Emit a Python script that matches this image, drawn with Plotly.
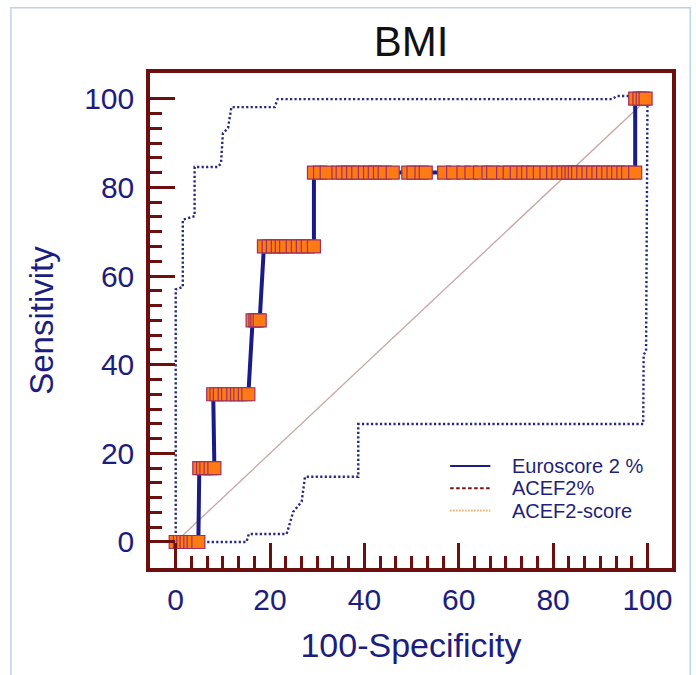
import plotly.graph_objects as go

# ---------------- data ----------------
roc_x = [0, 0.9, 1.6, 2.3, 3.1, 3.8, 4.8,
         5.0, 5.8, 6.5, 7.4, 8.2,
         7.95, 8.65, 9.35, 10.4, 11.1, 12.2, 13.0, 13.7, 14.65, 15.4,
         16.3, 16.9, 17.3, 17.8,
         18.7, 19.7, 20.6, 21.65, 22.5, 23.4, 24.8, 25.9, 26.95, 28.0, 29.3,
         29.3, 30.6, 32.0, 34.5, 35.4, 36.6, 37.6, 38.7, 40.1, 41.2, 42.2, 43.3, 44.3, 46.0,
         49.3, 50.4, 52.1, 53.0,
         56.9, 58.8, 61.0, 62.7, 64.5, 66.3, 67.3, 69.4, 70.8, 72.3, 73.7, 74.7, 75.8,
         77.2, 78.6, 80.0, 81.1, 82.2, 83.2, 83.9, 84.6, 85.3, 86.4, 87.5, 88.5, 89.6,
         90.6, 91.7, 92.8, 93.8, 94.9, 95.9, 97.4,
         97.4, 98.3, 99.0, 99.6]
roc_y = ([0.0] * 7 + [16.67] * 5 + [33.33] * 10 + [50.0] * 4 + [66.67] * 11
         + [83.33] * 14 + [83.33] * 4 + [83.33] * 33 + [100.0] * 4)

upper_x = [0, 0, 1.5, 1.5, 4.0, 4.0, 9.0, 9.6, 10.0, 11.1, 11.8, 21.0, 21.6, 92.5, 93.5, 100]
upper_y = [0, 57.0, 57.5, 72.7, 73.5, 84.6, 84.6, 85.5, 92.2, 93.4, 98.1, 98.1, 99.9, 99.9, 100.6, 100.6]

lower_x = [0, 15.0, 15.5, 23.5, 24.0, 24.9, 26.7, 27.4, 38.7, 38.7, 99.1, 99.2, 99.7, 100]
lower_y = [0, 0, 1.8, 1.8, 3.5, 6.8, 9.1, 14.7, 14.7, 26.6, 26.6, 42.3, 43.0, 100]

diag_x = [0, 100]
diag_y = [0, 100]

major_ticks = [0, 20, 40, 60, 80, 100]
minor_ticks = [i * 20 / 6 for i in range(1, 30) if i % 6 != 0]

legend_labels = ["Euroscore 2 %", "ACEF2%", "ACEF2-score"]
legend_colors = ["#1d1d86", "#7a1212", "#f2a860"]
legend_dash = ["solid", "3.5px,2.5px", "1.5px,1.5px"]

# ---------------- style ----------------
FONT = "Liberation Sans, Arial, sans-serif"
NAVY = "#1d1d80"
MAROON = "#6e0f0f"

fig = go.Figure()

fig.add_trace(go.Scatter(x=diag_x, y=diag_y, mode="lines",
                         line=dict(color="#c8a6a4", width=1.3),
                         showlegend=False, hoverinfo="skip"))
fig.add_trace(go.Scatter(x=upper_x, y=upper_y, mode="lines",
                         line=dict(color="#28287f", width=2.4, dash="2.2px,2.3px"),
                         showlegend=False))
fig.add_trace(go.Scatter(x=lower_x, y=lower_y, mode="lines",
                         line=dict(color="#28287f", width=2.4, dash="2.2px,2.3px"),
                         showlegend=False))
fig.add_trace(go.Scatter(x=roc_x, y=roc_y, mode="lines+markers",
                         line=dict(color="#1b1b88", width=4),
                         marker=dict(symbol="square", size=13, color="#ff7a12",
                                     line=dict(color="#a0305e", width=1.2)),
                         name=legend_labels[0], showlegend=False))

axis_common = dict(
    showgrid=False, zeroline=False,
    showline=True, linecolor=MAROON, linewidth=3.5, mirror=True,
    ticks="inside", ticklen=25, tickwidth=3, tickcolor=MAROON,
    tickmode="array", tickvals=major_ticks,
    tickfont=dict(family=FONT, size=30, color=NAVY),
    minor=dict(tickmode="array", tickvals=minor_ticks, ticks="inside",
               ticklen=12, tickwidth=2.5, tickcolor=MAROON),
)

fig.update_xaxes(**axis_common, range=[-5.45, 105.2], ticklabelstandoff=2,
                 title=dict(text="100-Specificity",
                            font=dict(family=FONT, size=34, color=NAVY), standoff=19))
fig.update_yaxes(**axis_common, range=[-5.87, 105.8], ticklabelstandoff=6,
                 title=dict(text="Sensitivity",
                            font=dict(family=FONT, size=33, color=NAVY), standoff=22))

# custom legend (text + line swatches)
rows_y = [0.206, 0.161, 0.116]
shapes = []
annotations = []
for lab, col, dsh, yy in zip(legend_labels, legend_colors, legend_dash, rows_y):
    shapes.append(dict(type="line", xref="x domain", yref="y domain",
                       x0=0.575, x1=0.652, y0=yy, y1=yy,
                       line=dict(color=col, width=2, dash=dsh)))
    annotations.append(dict(text=lab, xref="x domain", yref="y domain",
                            x=0.69, y=yy, xanchor="left", yanchor="middle",
                            showarrow=False,
                            font=dict(family=FONT, size=20, color="#1f1f78")))

# faint screenshot frame
shapes.append(dict(type="rect", xref="paper", yref="paper",
                   x0=-0.2664, x1=1.035, y0=-0.2264, y1=1.132,
                   line=dict(color="#bcd3ee", width=1.5), layer="below"))

fig.update_layout(
    width=696, height=675,
    margin=dict(l=150, r=24, t=73, b=107),
    paper_bgcolor="white", plot_bgcolor="white",
    title=dict(text="BMI", x=0.5, xref="paper", y=1 - 41 / 675, yanchor="middle",
               font=dict(family=FONT, size=42, color="#111111")),
    shapes=shapes, annotations=annotations,
    showlegend=False,
)

fig.write_html("out.html", config={"displayModeBar": False},
               post_script="document.body.style.margin='0px';")
